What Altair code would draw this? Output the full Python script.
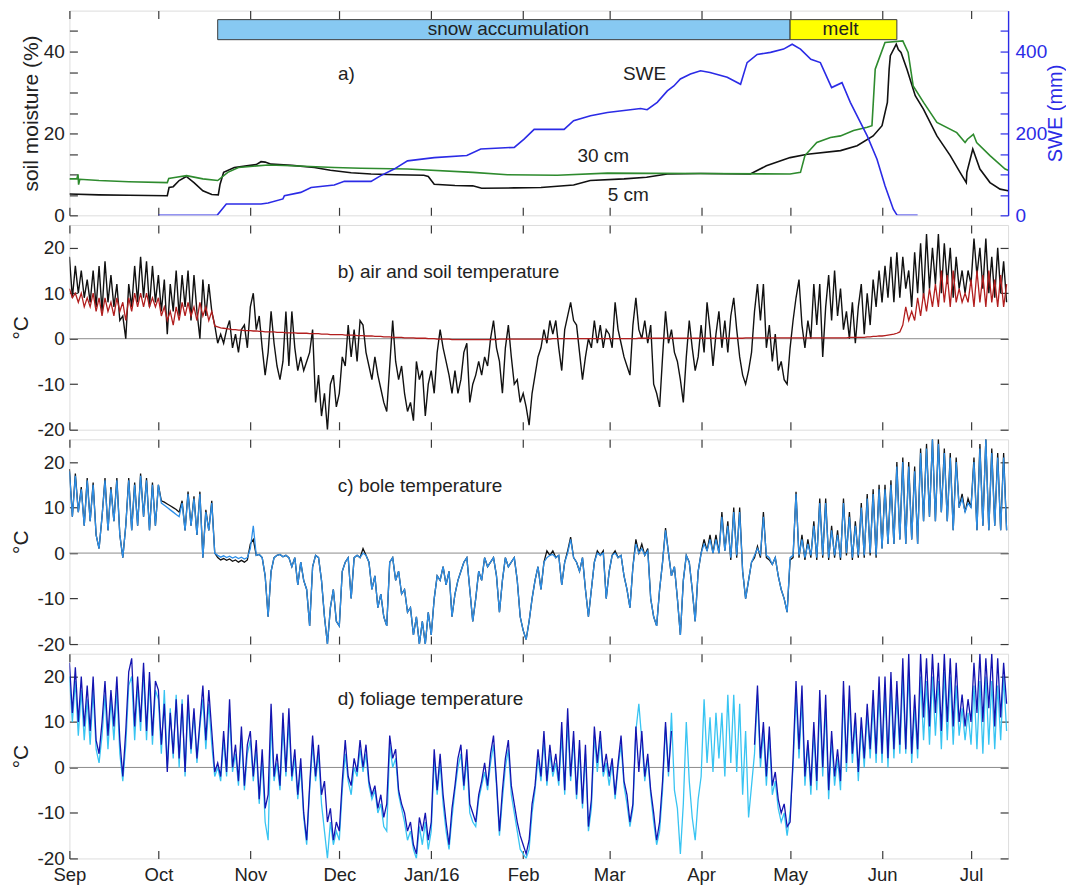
import altair as alt
import pandas as pd

# ------------------------------------------------------------------ data
START = pd.Timestamp("2015-09-01")

# panel a: soil moisture (%) and SWE (mm); x = days after 1 Sep 2015
sm5_day = [0, 10, 20, 33, 33.6, 35, 37, 39.4, 42, 45, 48, 50.2, 50.8, 52, 55.6, 61, 63, 64.6, 66, 68,
           75, 82.6, 88, 95, 101.7, 110, 119.5, 121, 123, 130, 136, 139, 150, 159, 170, 175.6, 187, 194.6,
           201.6, 212.8, 229.6, 235, 243, 248.8, 260, 265.6, 271, 274, 275.8, 276.4, 276.8, 278.8, 279.5,
           280.4, 282.4, 285.2, 288, 292.5, 297, 300.3, 302.4, 302.6, 304.6, 307, 310.4, 313.8, 316.5]
sm5_val = [5.2, 5.0, 4.9, 4.8, 6.8, 7.0, 8.5, 9.5, 8.0, 6.0, 5.1, 5.0, 7.6, 10.5, 11.7, 12.2, 12.4, 13.1, 13.0, 12.5,
           12.2, 11.7, 11.0, 10.4, 10.1, 9.9, 9.8, 9.5, 7.6, 7.3, 7.2, 6.6, 6.7, 6.8, 7.4, 8.5, 8.9, 9.3,
           10.1, 10.2, 10.1, 12.1, 14.1, 14.9, 15.8, 17.0, 19.4, 21.9, 27.6, 35.7, 39.0, 41.8, 40.5,
           39.8, 35.7, 29.2, 25.9, 19.4, 14.6, 10.5, 8.0, 10.5, 16.2, 11.3, 8.0, 6.4, 6.0]
sm30_day = [0, 2.5, 2.9, 3.1, 3.5, 10, 20, 33, 33.5, 36, 39.5, 45, 50, 53.4, 57, 67, 75, 89.3, 98.3, 114,
            136, 147.7, 164.5, 181.4, 212.8, 243, 246.5, 248, 252, 256.6, 260, 264.4, 269, 270.6, 271.7,
            272.5, 275, 281, 282.8, 284.5, 288, 292.5, 299.2, 302, 302.8, 304.8, 305.9, 310.4, 315.5, 316.5]
sm30_val = [8.9, 8.9, 10.0, 7.5, 8.8, 8.5, 8.2, 8.0, 9.0, 9.3, 9.7, 8.9, 8.5, 10.5, 11.7, 12.3, 12.1, 11.7, 11.5, 11.3,
            10.5, 9.9, 9.8, 10.3, 10.2, 10.1, 10.5, 14.6, 17.8, 19.0, 19.4, 20.7, 21.5, 21.9, 35.7,
            37.3, 42.2, 42.6, 39.8, 31.6, 27.6, 22.7, 20.2, 17.8, 18.6, 19.8, 17.8, 14.6, 11.3, 11.0]
swe_day = [30, 49.8, 52.9, 64.6, 67, 72, 72.5, 78, 81.5, 89.3, 92.7, 101.7, 105, 109.5, 114, 123, 134, 138.7,
           150, 153.3, 156.7, 166.8, 170, 175.7, 181.4, 192.6, 194.8, 198.2, 201.6, 203.8, 206, 209.4, 212.8,
           216, 221.8, 226.3, 228.5, 231.9, 236.4, 240.8, 243.7, 246.5, 250, 253.2, 257, 260.5, 263.3, 266.7,
           269, 272.3, 275, 277.8, 279, 279.5, 286]
swe_val = [0, 0, 27.6, 27.6, 30, 40, 48, 56, 68, 74, 83, 83, 97, 113, 133, 141, 146, 162,
           166, 186, 210, 210, 231, 243, 251, 261, 258, 276, 304, 316, 333, 345, 353,
           349, 337, 320, 373, 393, 398, 406, 418, 406, 381, 373, 312, 324, 276, 227,
           194, 137, 72, 15, 1, 0, 0]

phase_name = ["snow accumulation", "melt"]
phase_start = ["2015-10-21", "2016-05-01"]
phase_end = ["2016-05-01", "2016-06-06"]
phase_label_date = ["2016-01-27", "2016-05-18"]

ann_a_text = ["a)", "SWE", "30 cm", "5 cm"]
ann_a_date = ["2015-12-03T10:00", "2016-03-12T22:00", "2016-02-28T00:00", "2016-03-07T10:00"]
ann_a_val = [34.4, 34.6, 14.6, 4.9]

panel_titles = ["b) air and soil temperature", "c) bole temperature", "d) foliage temperature"]
panel_title_date = "2015-11-30T12:00"
panel_title_val = [14.7, 14.7, 15.0]

# daily temperatures (deg C), 1 Sep 2015 .. 13 Jul 2016 (317 days)
air_T = [
    18, 9, 16, 10, 15, 9, 13, 8, 15, 7, 16, 6, 17, 8, 14, 7, 12, 4, 5, 0, 12, 7, 16, 8, 18, 9, 17, 7, 16, 8,
    14, 6, 13, 1, 12, 6, 15, 5, 14, 7, 15, 4, 14, 6, 0, 13, 5, 12, 6, 3, -1, 1, -1, 2, 4, -2, 1, -3, 2, 3, -2,
    7, 10, 2, 5, -2, -8, -3, 6, -1, -6, -9, -5, 6, -6, 6, -2, -7, -4, -7, -5, -3, 2, -14, -8, -17, -12, -20, -10, -8, -15,
    -12, -4, -6, 3, -4, 2, -5, 4, 3, -3, -6, -9, -4, -8, -11, -14, -16, -6, 4, -5, -9, -6, -12, -16, -14, -18, -5, -9, -7, -17, -10,
    -7, -12, -3, 2, -2, -5, -8, -12, -7, -12, -9, -3, -1, -14, -10, -8, -5, -8, -4, -6, 0, 4, -2, -5, -12, -2, 3, -4, -10, -9, -14,
    -12, -15, -19, -12, -8, -4, -2, 2, -1, 4, 1, 4, -2, -7, 2, 5, 8, 4, 3, -3, -9, -4, 0, -2, 4, -1, 3, -2, 2,
    1, -2, 8, 2, -1, -4, -6, -8, 3, 9, 2, 0, 4, -1, 3, -10, -12, -15, -4, 6, -1, 2, -3, -5, -9, -14, -4, 4, -2, -7, -4,
    3, -3, 8, 2, -6, 1, 6, -2, 4, -3, 5, 9, 2, -4, -8, -10, -7, -3, 6, 12, 4, 12, -2, 3, -5, 1, -7, -5, -9, -10,
    -2, 4, 9, 13, 3, -2, 4, 0, 12, 3, 12, -4, 7, 14, 4, 15, 5, 11, 2, 6, 0, 8, -1, 7, 12, 1, 10, 3, 13, 7, 15,
    8, 16, 9, 18, 8, 19, 9, 18, 11, 15, 7, 19, 10, 21, 9, 23, 11, 20, 12, 23, 10, 21, 12, 20, 9, 18, 11, 15, 10, 15,
    12, 22, 14, 20, 11, 22, 10, 18, 9, 20, 10, 17, 8,
]
soil_T = [
    11, 9, 10, 8, 10, 7, 9, 7, 10, 6, 9, 5, 9, 6, 8, 5, 9, 6, 8, 4, 9, 6, 10, 7, 10, 7, 10, 7, 9, 7,
    9, 5, 7, 4, 6, 3, 7, 4, 8, 5, 8, 5, 7, 4, 8, 5, 7, 4, 6, 2.8, 2.6, 2.4, 2.3, 2.2, 2.1, 2.0, 2.0, 1.9, 1.9, 1.8, 1.8,
    1.8, 1.7, 1.7, 1.6, 1.6, 1.5, 1.5, 1.5, 1.5, 1.4, 1.4, 1.4, 1.3, 1.3, 1.3, 1.3, 1.2, 1.2, 1.2, 1.2, 1.1, 1.1, 1.1, 1.1, 1.0, 1.0, 1.0, 0.9, 0.9, 0.9,
    0.9, 0.9, 0.8, 0.8, 0.8, 0.8, 0.7, 0.7, 0.7, 0.6, 0.6, 0.6, 0.5, 0.5, 0.5, 0.4, 0.4, 0.4, 0.3, 0.3, 0.3, 0.3, 0.2, 0.2, 0.2, 0.2, 0.1, 0.1, 0.1, 0.1, 0.0,
    0.0, 0.0, -0.1, -0.1, -0.1, -0.1, -0.1, -0.2, -0.2, -0.2, -0.2, -0.2, -0.2, -0.2, -0.2, -0.2, -0.2, -0.2, -0.2, -0.2, -0.2, -0.2, -0.2, -0.1, -0.1, -0.1, -0.1, -0.1, -0.1, -0.1, -0.1,
    -0.1, -0.1, -0.1, -0.1, -0.1, -0.1, -0.1, -0.1, -0.1, -0.1, 0.0, 0.0, 0.0, 0.0, 0.0, 0.0, 0.0, 0.0, 0.0, 0.0, 0.0, 0.0, 0.0, 0.0, 0.0, 0.0, 0.0, 0.0, 0.0,
    0.0, 0.0, 0.0, 0.0, 0.0, 0.0, 0.0, 0.0, 0.0, 0.0, 0.1, 0.1, 0.1, 0.1, 0.1, 0.1, 0.1, 0.1, 0.1, 0.1, 0.1, 0.1, 0.1, 0.1, 0.1, 0.1, 0.1, 0.1, 0.1, 0.1, 0.1,
    0.1, 0.1, 0.1, 0.1, 0.1, 0.1, 0.1, 0.1, 0.1, 0.1, 0.1, 0.1, 0.1, 0.1, 0.1, 0.2, 0.2, 0.2, 0.2, 0.2, 0.2, 0.2, 0.2, 0.2, 0.2, 0.2, 0.2, 0.2, 0.2, 0.2,
    0.2, 0.2, 0.2, 0.2, 0.2, 0.2, 0.2, 0.2, 0.2, 0.2, 0.2, 0.2, 0.2, 0.2, 0.2, 0.2, 0.2, 0.2, 0.2, 0.2, 0.3, 0.3, 0.3, 0.3, 0.3, 0.3, 0.4, 0.4, 0.5, 0.5, 0.6,
    0.6, 0.7, 0.8, 0.9, 1.0, 1.2, 1.5, 3, 7, 4, 6, 4, 9, 5, 10, 6, 11, 7, 12, 7, 15, 8, 14, 7, 15, 8, 11, 8, 10, 8,
    13, 7, 15, 8, 14, 7, 15, 8, 13, 7, 14, 7, 12,
]
bole_black = [
    18.5, 8, 17.5, 9, 14.5, 6, 16.5, 7, 15.5, 4, 1, 8, 16.5, 5, 14.5, 7, 16.5, 4, -1, 6, 16.5, 5, 15.5, 6, 17.5, 8, 16.5, 5, 15.5, 6,
    15, 11.5, 11.2, 10.8, 10.4, 10, 9.6, 9, 11.5, 5, 13.5, 6, 12.5, 4, 13.5, -1, 9.5, 5, 11.5, 0, -1, -1.5, -1.2, -1.6, -1.3, -1.8, -1.5, -2, -1.6, -2, -1.5,
    2, 3, -0.5, -0.3, -1, -5, -14, -4, -1, -0.5, -0.3, -0.8, -0.5, -1, -3, -1, -7, -2, -6, -8, -16, -3, -0.5, -1, -6, -14, -20, -12, -8, -15,
    -16, -4, -2, -1, -10, -1, -0.5, -1, 1, -0.5, -2, -8, -5, -12, -9, -14, -16, -2, -1, -6, -4, -9, -8, -13, -12, -18, -14, -20, -15, -20, -13,
    -18, -10, -5, -6, -3, -7, -4, -14, -9, -6, -4, -2, -1, -8, -15, -10, -4, -6, -1, -3, -2, -1, -5, -13, -6, -1, -3, -2, -1, -6, -14,
    -17, -19, -15, -10, -6, -3, -8, -2, 0.5, -0.5, 0.5, -1, -0.5, -7, -2, 0.5, 3.5, -1, -2, -4, -1, -8, -14, -8, -2, 0.5, -0.5, 0.5, -10,
    -4, -0.5, 0.5, -1, -0.5, -5, -8, -12, -3, 3, 0, 2, -0.5, 1, -10, -14, -16, -8, -2, 5.5, 0, -5, -3, -10, -18, -6, -0.5, -2, -8, -15, -4,
    0, 3, 0.5, 4, 0, 4, 0, 9, 0.5, 7, -1.5, 10, -1, 10, -4, -10, -6, -2, -1, 1.5, -1, 9, -1, -1.5, -2.5, -1, -5, -8, -10, -13,
    -1.5, -1, 13.5, -1, 4, -1.5, 3, -1, 7, -1.5, 12, -1, 12, -1.5, 6, -1, 5, -1.5, 12, -0.5, 9, -1.5, 7, -1, 11, -1, 13, -0.5, 14, -1, 15,
    1, 15, 2, 16, 2, 20, 3, 21, 2, 20, 3, 19, 2, 23, 7, 24, 8, 25, 7, 25, 9, 23, 7, 22, 5, 21, 10, 13, 9, 12,
    10, 21, 5, 24, 6, 25, 5, 23, 6, 22, 5, 22, 5,
]
bole_blue = [
    18, 8, 17, 9, 14, 6, 16, 7, 15, 4, 1, 8, 16, 5, 14, 7, 16, 4, -1, 6, 16, 5, 15, 6, 17, 8, 16, 5, 15, 6,
    15, 11, 10.5, 10, 9.5, 9, 8.5, 8, 11, 5, 13, 6, 12, 4, 13, -1, 9, 5, 11, 0, -0.5, -0.9, -0.6, -1, -0.7, -1.1, -0.8, -1.2, -0.9, -1.3, -1,
    1, 6, -0.5, -0.3, -1, -5, -14, -4, -1, -0.5, -0.3, -0.8, -0.5, -1, -3, -1, -7, -2, -6, -8, -16, -3, -0.5, -1, -6, -14, -20, -12, -8, -15,
    -16, -4, -2, -1, -10, -1, -0.5, -1, 0, -0.5, -2, -8, -5, -12, -9, -14, -16, -2, -1, -6, -4, -9, -8, -13, -12, -18, -14, -20, -15, -20, -13,
    -18, -10, -5, -6, -3, -7, -4, -14, -9, -6, -4, -2, -1, -8, -15, -10, -4, -6, -1, -3, -2, -1, -5, -13, -6, -1, -3, -2, -1, -6, -14,
    -17, -19, -15, -10, -6, -3, -8, -2, -1, -0.5, -0.3, -1, -0.5, -7, -2, 0, 3, -1, -2, -4, -1, -8, -14, -8, -2, 0, -0.5, 0, -10,
    -4, -0.5, 0, -1, -0.5, -5, -8, -12, -3, 2, 0, 1, -0.5, 0.5, -10, -14, -16, -8, -2, 5, 0, -5, -3, -10, -18, -6, -0.5, -2, -8, -15, -4,
    0, 2, 0.5, 3, 0, 3, 0, 8, 0.5, 6, -1, 9, -0.5, 9, -4, -10, -6, -2, -0.5, 1, -0.3, 8, -0.5, -1, -2.5, -1, -5, -8, -10, -13,
    -1, -0.5, 13, -0.5, 3, -1, 2, -0.5, 6, -1, 11, -0.5, 11, -1, 5, -0.5, 4, -1, 11, 0, 8, -1, 6, -0.5, 10, -0.5, 12, 0, 13, -0.5, 14,
    1, 14, 2, 15, 2, 19, 3, 20, 2, 19, 3, 18, 2, 22, 7, 23, 8, 25, 7, 24, 9, 22, 7, 21, 5, 20, 10, 12, 9, 11,
    10, 20, 5, 23, 6, 25, 5, 22, 6, 21, 5, 21, 5,
]
foliage_dark = [
    23, 12, 22, 10, 20, 9, 18, 8, 20, 6, 3, 10, 19, 7, 17, 9, 20, 6, -2, 8, 21, 24, 9, 20, 10, 23, 8, 21, 7, 19,
    17, 5, 14, -1, 12, 3, 15, 2, 14, -1, 16, 4, 13, 2, 10, 18, 6, 17, 8, -1, 1, -2, 8, -1, 15, 0, 5, -3, 9, -4, 5,
    8, -2, 6, -7, 4, -9, -6, 14, -2, 3, -4, 12, -1, 13, -2, 4, -6, 2, -10, -16, -4, 7, -2, 5, -6, -3, -12, -9, -16, -12,
    -14, -3, 6, -2, -4, 2, -1, 6, 0, 5, -3, -6, -4, -9, -6, -11, -8, 7, 2, 4, -5, -8, -10, -14, -12, -17, -19, -11, -14, -10, -16,
    -12, 4, -5, 3, -6, -12, -17, -9, -4, 2, 5, -4, 4, -8, -10, -12, -6, -3, 1, -4, 3, 7, -3, -14, -5, 2, 6, -4, -8, -12, -15,
    -17, -19, -16, -8, -4, 4, -2, 8, -3, 5, -1, 3, -3, 10, -5, 13, -2, 8, -6, 6, -8, 5, -13, -7, 9, 1, 8, -1, 3,
    -2, 2, -6, 1, 7, -3, -6, -12, -8, 9, -1, 8, -2, 3, -5, -10, -16, -12, -3, 10, -1, 8, None, None, None, None, None, None, None, None, None,
    None, None, None, None, None, None, None, None, None, None, None, None, None, None, None, None, None, None, 5, 18, 2, 10, -2, 9, -4, -1, -7, -10, -8, -13,
    -12, 2, 19, 4, 18, -2, 6, -4, 10, -3, 17, 0, 16, -5, 8, -2, 4, -3, 19, 1, 18, 3, 12, -1, 11, 2, 14, 4, 17, 3, 20,
    3, 20, 2, 21, 4, 19, 5, 24, 4, 25, 3, 16, 4, 25, 11, 24, 9, 25, 12, 23, 8, 25, 10, 24, 9, 23, 10, 16, 9, 15,
    10, 23, 12, 25, 10, 24, 13, 25, 9, 24, 11, 23, 14,
]
foliage_light = [
    20, 10, 19, 7, 17, 6, 15, 5, 17, 4, 1, 7, 16, 4, 15, 6, 17, 3, -3, 5, 18, 20, 6, 18, 8, 21, 6, 19, 5, 17,
    15, 3, 17, 0, 13, 2, 16, 0, 15, -2, 14, 3, 12, 1, 9, 15, 4, 14, 5, -2, 0, -3, 6, -2, 12, -1, 3, -4, 7, -5, 3,
    6, -3, 4, -8, 2, -12, -16, 10, -3, 1, -5, 9, -2, 10, -3, 2, -7, 0, -11, -17, -5, 5, -3, 3, -8, -14, -20, -12, -17, -14,
    -16, -5, 3, -3, -6, 0, -2, 4, -1, 3, -4, -7, -5, -10, -8, -13, -14, 5, 0, 2, -6, -9, -12, -16, -14, -18, -20, -13, -17, -12, -18,
    -14, 2, -6, 1, -8, -14, -18, -11, -5, 0, 3, -5, 2, -10, -12, -13, -7, -4, -1, -5, 1, 5, -4, -15, -7, 0, 4, -6, -10, -14, -18,
    -19, -20, -18, -10, -5, 2, -3, 6, -4, 3, -2, 1, -4, 7, -6, 10, -3, 6, -7, 4, -9, 3, -14, -9, 7, -1, 6, -2, 1,
    -4, 1, -7, 0, 5, -4, -8, -13, -9, 8, 14, 6, -3, 2, -6, -12, -17, -14, -5, 9, -2, 12, -5, -9, -19, -8, 10, -3, -11, -16, -7,
    -2, 15, 1, 11, -1, 12, 2, 12, -2, 16, 1, 16, -1, 14, -6, 8, -11, -4, 3, 16, 0, 8, -4, 7, -6, -3, -9, -12, -10, -15,
    -10, 0, 16, 2, 15, -4, 5, -6, 8, -5, 14, -2, 13, -7, 6, -4, 2, -5, 16, -1, 15, 1, 10, -3, 9, 0, 12, 2, 14, 1, 17,
    1, 17, 0, 18, 2, 16, 3, 20, 3, 21, 1, 13, 2, 20, 6, 19, 5, 20, 7, 19, 4, 21, 6, 20, 5, 18, 7, 13, 6, 12,
    5, 18, 4, 19, 3, 20, 5, 19, 4, 18, 6, 20, 8,
]

month_starts = [(2015, 9), (2015, 10), (2015, 11), (2015, 12), (2016, 1), (2016, 2),
                (2016, 3), (2016, 4), (2016, 5), (2016, 6), (2016, 7)]

for arr in (air_T, soil_T, bole_black, bole_blue, foliage_dark, foliage_light):
    assert len(arr) == 317, len(arr)

# ------------------------------------------------------------------ tables
def days_to_dates(d):
    return START + pd.to_timedelta(pd.Series(d, dtype=float), unit="D")

sm5 = pd.DataFrame({"date": days_to_dates(sm5_day), "v": sm5_val})
sm30 = pd.DataFrame({"date": days_to_dates(sm30_day), "v": sm30_val})
swe = pd.DataFrame({"date": days_to_dates(swe_day), "v": swe_val})
phases = pd.DataFrame({"phase": phase_name, "start": pd.to_datetime(phase_start),
                       "end": pd.to_datetime(phase_end), "lab": pd.to_datetime(phase_label_date)})
ann_a = pd.DataFrame({"text": ann_a_text, "date": pd.to_datetime(ann_a_date), "v": ann_a_val})

days = pd.date_range(START, periods=317, freq="D")
temps = pd.DataFrame({"date": days, "air": air_T, "soil": soil_T, "bole_k": bole_black,
                      "bole_b": bole_blue, "fol_l": foliage_light})
fdark = pd.DataFrame({"date": days, "v": pd.Series(foliage_dark, dtype=float)})
fdark["seg"] = fdark["v"].isna().cumsum()
fdark = fdark.dropna()
ticks_df = pd.DataFrame({"date": [pd.Timestamp(year=y, month=m, day=1) for y, m in month_starts]})
zero_df = pd.DataFrame({"v": [0]})

# ------------------------------------------------------------------ style
FONT = "Liberation Sans"
INK = "#222222"
FRAME = "#3a3a3a"
C_SWE = "#2b2be6"
C_GREEN = "#2e8b2e"
C_RED = "#b21e1e"
C_BOLE = "#2d8fe8"
C_FDARK = "#1414b0"
C_FLIGHT = "#38c4f2"
PHASE_COLORS = ["#87c9f2", "#ffff00"]
W, H = 940, 205
SPACING = 9.67
TICK = 8

month_vals = [alt.DateTime(year=y, month=m, date=1) for y, m in month_starts]
xs = alt.Scale(domain=[alt.DateTime(year=2015, month=9, date=1),
                       alt.DateTime(year=2016, month=7, date=13, hours=12)], nice=False)
ys_sm = alt.Scale(domain=[0, 50], nice=False, zero=False)
ys_swe = alt.Scale(domain=[0, 500], nice=False, zero=False)
ys_T = alt.Scale(domain=[-20, 25], nice=False, zero=False)


def bottom_axis(show):
    kw = dict(orient="bottom", values=month_vals, offset=-TICK, tickSize=TICK, tickColor=FRAME,
              tickWidth=1.2, domain=False, grid=False, title=None, labels=show)
    if show:
        kw.update(labelExpr="month(datum.value) == 0 ? timeFormat(datum.value, '%b/%y') : timeFormat(datum.value, '%b')",
                  labelFont=FONT, labelFontSize=18.5, labelColor=INK, labelPadding=7,
                  labelFlush=False, labelOverlap=False, labelAngle=0)
    return alt.Axis(**kw)


top_axis = alt.Axis(orient="top", values=month_vals, offset=-TICK, tickSize=TICK, tickColor=FRAME,
                    tickWidth=1.2, domain=False, grid=False, labels=False, title=None)


def left_axis(values, expr, title, title_x):
    return alt.Axis(orient="left", values=values, offset=-TICK, tickSize=TICK, tickColor=FRAME,
                    tickWidth=1.2, domain=False, grid=False, labelExpr=expr, labelFont=FONT,
                    labelFontSize=19, labelColor=INK, labelPadding=5, labelOverlap=False,
                    labelFlush=False, title=title, titleFont=FONT, titleFontSize=21,
                    titleFontWeight="normal", titleColor=INK, titleAngle=270, titleX=title_x,
                    titleY=H / 2, titleAlign="center", titleBaseline="middle")


def right_ticks(values, color):
    return alt.Axis(orient="right", values=values, offset=-TICK, tickSize=TICK, tickColor=color,
                    tickWidth=1.2, domain=False, grid=False, labels=False, title=None)


T_VALUES = [-20, -10, 0, 10, 20]
T_EXPR = "'' + datum.value"


def tline(col, color, sw, xaxis=None, yaxis=None):
    return alt.Chart(temps).mark_line(color=color, strokeWidth=sw, clip=True).encode(
        x=alt.X("date:T", scale=xs, axis=xaxis),
        y=alt.Y(f"{col}:Q", scale=ys_T, axis=yaxis))


def zero_rule():
    return alt.Chart(zero_df).mark_rule(color="#8c8c8c", strokeWidth=1).encode(
        y=alt.Y("v:Q", scale=ys_T, axis=right_ticks(T_VALUES, FRAME)))


def top_ticks():
    return alt.Chart(ticks_df).mark_point(opacity=0).encode(
        x=alt.X("date:T", scale=xs, axis=top_axis))


def panel_label(i):
    df = pd.DataFrame({"text": [panel_titles[i]], "date": [pd.Timestamp(panel_title_date)],
                       "v": [panel_title_val[i]]})
    return alt.Chart(df).mark_text(align="left", baseline="middle", font=FONT, fontSize=19,
                                   color=INK).encode(
        x=alt.X("date:T", scale=xs, axis=None),
        y=alt.Y("v:Q", scale=ys_T, axis=None), text="text:N")


def finish(*layers):
    return alt.layer(*layers).resolve_scale(y="independent").resolve_axis(
        x="independent", y="independent").properties(width=W, height=H)


# ------------------------------------------------------------------ panel a
bands = alt.Chart(phases).mark_rect(stroke=FRAME, strokeWidth=1).encode(
    x=alt.X("start:T", scale=xs, axis=None), x2="end:T",
    y=alt.YDatum(42.9, scale=ys_sm, axis=None), y2=alt.Y2Datum(47.8),
    color=alt.Color("phase:N", scale=alt.Scale(domain=phase_name, range=PHASE_COLORS), legend=None))
band_text = alt.Chart(phases).mark_text(font=FONT, fontSize=19, color=INK, baseline="middle").encode(
    x=alt.X("lab:T", scale=xs, axis=None), y=alt.YDatum(45.4, scale=ys_sm, axis=None), text="phase:N")
line5 = alt.Chart(sm5).mark_line(color="#111111", strokeWidth=1.6, clip=True).encode(
    x=alt.X("date:T", scale=xs, axis=bottom_axis(False)),
    y=alt.Y("v:Q", scale=ys_sm,
            axis=left_axis(list(range(0, 46, 5)), "datum.value % 20 == 0 ? '' + datum.value : ''",
                           "soil moisture (%)", -46)))
line30 = alt.Chart(sm30).mark_line(color=C_GREEN, strokeWidth=1.6, clip=True).encode(
    x=alt.X("date:T", scale=xs, axis=None), y=alt.Y("v:Q", scale=ys_sm, axis=None))
swe_line = alt.Chart(swe).mark_line(color=C_SWE, strokeWidth=1.6, clip=True).encode(
    x=alt.X("date:T", scale=xs, axis=None),
    y=alt.Y("v:Q", scale=ys_swe, axis=right_ticks(list(range(0, 451, 50)), C_SWE)))
swe_axis = alt.Axis(orient="right", values=list(range(0, 451, 50)), offset=0, ticks=False, domain=True,
                    domainColor=C_SWE, domainWidth=1.4, grid=False,
                    labelExpr="datum.value % 200 == 0 ? '' + datum.value : ''", labelFont=FONT,
                    labelFontSize=19, labelColor=C_SWE, labelPadding=7, labelOverlap=False,
                    labelFlush=False, title="SWE (mm)", titleFont=FONT, titleFontSize=20,
                    titleFontWeight="normal", titleColor=C_SWE, titleAngle=270, titleX=47,
                    titleY=H / 2, titleAlign="center", titleBaseline="middle")
swe_ghost = alt.Chart(swe).mark_line(opacity=0).encode(
    x=alt.X("date:T", scale=xs, axis=None), y=alt.Y("v:Q", scale=ys_swe, axis=swe_axis))
ann_a_layer = alt.Chart(ann_a).mark_text(font=FONT, fontSize=19, color=INK, baseline="middle").encode(
    x=alt.X("date:T", scale=xs, axis=None), y=alt.Y("v:Q", scale=ys_sm, axis=None), text="text:N")

panel_a = finish(bands, band_text, line5, line30, swe_line, swe_ghost, ann_a_layer, top_ticks())

# ------------------------------------------------------------------ panels b-d
panel_b = finish(
    zero_rule(),
    tline("air", "#111111", 1.4, bottom_axis(False), left_axis(T_VALUES, T_EXPR, "°C", -56)),
    tline("soil", C_RED, 1.3),
    panel_label(0), top_ticks())

panel_c = finish(
    zero_rule(),
    tline("bole_k", "#111111", 1.3, bottom_axis(False), left_axis(T_VALUES, T_EXPR, "°C", -56)),
    tline("bole_b", C_BOLE, 1.3),
    panel_label(1), top_ticks())

dark_line = alt.Chart(fdark).mark_line(color=C_FDARK, strokeWidth=1.3, clip=True).encode(
    x=alt.X("date:T", scale=xs, axis=None), y=alt.Y("v:Q", scale=ys_T, axis=None), detail="seg:N")

panel_d = finish(
    zero_rule(),
    tline("fol_l", C_FLIGHT, 1.3, bottom_axis(True), left_axis(T_VALUES, T_EXPR, "°C", -56)),
    dark_line,
    panel_label(2), top_ticks())

chart = alt.vconcat(panel_a, panel_b, panel_c, panel_d, spacing=SPACING, bounds="flush").properties(
    padding={"left": 1.5, "top": 0, "right": 0, "bottom": 0}, background="white"
).configure_view(stroke=FRAME, strokeWidth=1.3).configure(font=FONT)

chart.save("out.html", embed_options={"renderer": "svg", "actions": False})
